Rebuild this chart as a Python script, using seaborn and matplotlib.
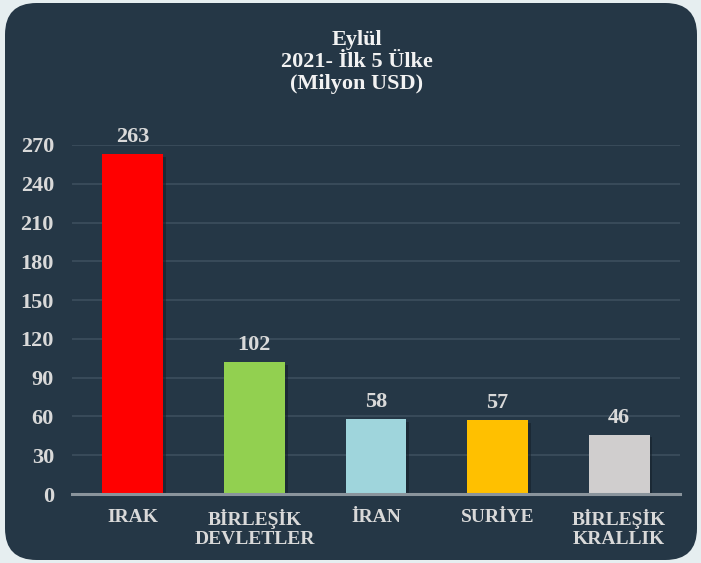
import seaborn as sns
import pandas as pd
import matplotlib.pyplot as plt
from matplotlib.patches import FancyBboxPatch
import matplotlib.patheffects as pe

# Veriler
countries = ['IRAK', 'BİRLEŞİK\nDEVLETLER', 'İRAN', 'SURİYE', 'BİRLEŞİK\nKRALLIK']
values = [263, 102, 58, 57, 46]
bar_colors = ['#ff0000', '#92d050', '#9fd5dc', '#ffc000', '#d0cece']
y_ticks = [0, 30, 60, 90, 120, 150, 180, 210, 240, 270]
title_text = 'Eylül\n2021- İlk 5 Ülke\n(Milyon USD)'

bg = '#253746'
txt = '#d9d9d9'

sns.set_style('white')
plt.rcParams['font.family'] = ['Liberation Serif', 'DejaVu Serif']
plt.rcParams['font.weight'] = 'bold'

df = pd.DataFrame({'Ulke': countries, 'Deger': values})

fig = plt.figure(figsize=(7.01, 5.63), dpi=100)
fig.patch.set_facecolor('#e6eef0')

# yuvarlak koseli panel
W, H = 701, 563
panel = FancyBboxPatch((5 / W, 3 / H), 692 / W, 557 / H,
                       boxstyle='round,pad=0,rounding_size=0.045',
                       transform=fig.transFigure, facecolor=bg,
                       edgecolor='none', zorder=-10, mutation_aspect=W / H)
fig.patches.append(panel)

ax = fig.add_axes([72 / W, 1 - 494 / H, 608 / W, 349 / H])
ax.set_facecolor('none')

sns.barplot(data=df, x='Ulke', y='Deger', hue='Ulke', palette=bar_colors,
            width=0.5, legend=False, saturation=1, ax=ax, zorder=3,
            edgecolor='none', linewidth=0)

for p in ax.patches:
    p.set_path_effects([pe.SimplePatchShadow(offset=(2, -2), shadow_rgbFace='#15212b', alpha=0.6),
                        pe.Normal()])

for c in ax.containers:
    ax.bar_label(c, padding=5, color=txt, fontsize=16, fontweight='bold')

ax.set_ylim(0, 270)
ax.set_xlim(-0.5, 4.5)
ax.set_yticks(y_ticks)
ax.yaxis.grid(True, color='#3d4e5d', linewidth=1.2, zorder=0)
ax.set_axisbelow(True)
ax.tick_params(axis='y', length=0, pad=13, labelsize=16, labelcolor=txt)
ax.tick_params(axis='x', length=0, pad=11, labelsize=14, labelcolor=txt)
for lbl in ax.get_xticklabels() + ax.get_yticklabels():
    lbl.set_fontweight('bold')
for lbl in ax.get_xticklabels():
    lbl.set_linespacing(1.15)
ax.set_xlabel('')
ax.set_ylabel('')

for s in ['top', 'right', 'left']:
    ax.spines[s].set_visible(False)
ax.spines['bottom'].set_color('#8a949c')
ax.spines['bottom'].set_linewidth(2.2)
ax.spines['bottom'].set_zorder(4)

fig.text(357 / W, 1 - 62 / H, title_text, ha='center', va='center',
         color='#f2f2f2', fontsize=16, fontweight='bold', linespacing=1.1)

fig.savefig('out.png', dpi=100, facecolor=fig.get_facecolor())
